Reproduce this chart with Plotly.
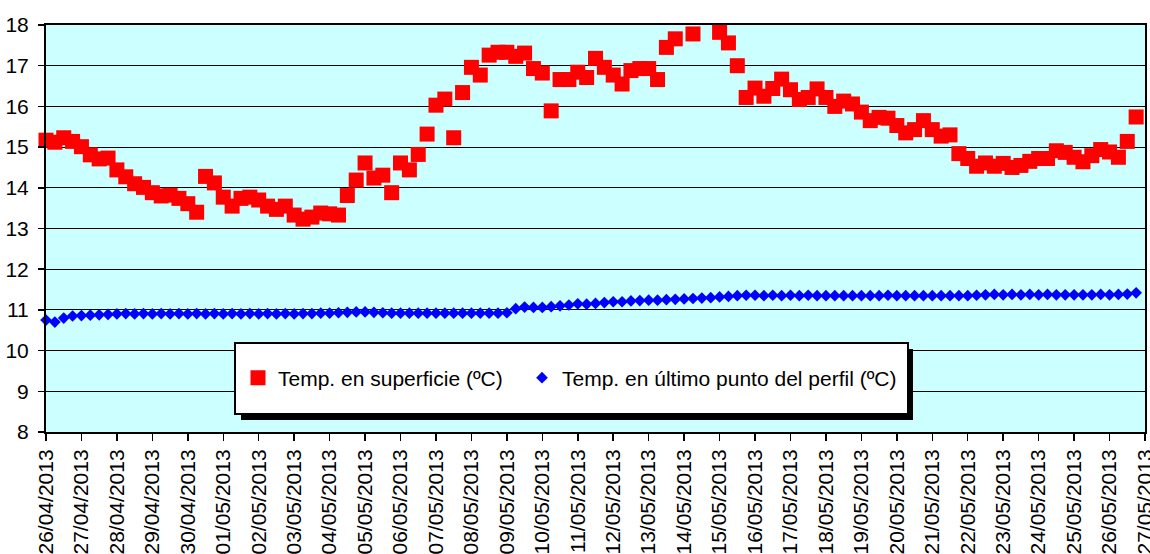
import pandas as pd
import plotly.graph_objects as go

# ---- data (6-hourly readings, 26/04/2013 00:00 onward) ----
start_date = "2013-04-26"
n_points = 124
sample_freq = "6h"

surface_temp = [
    15.17, 15.12, 15.23, 15.14, 15.01, 14.81, 14.71, 14.73, 14.44, 14.27,
    14.10, 14.01, 13.88, 13.80, 13.82, 13.74, 13.61, 13.40, 14.28, 14.12,
    13.77, 13.55, 13.74, 13.77, 13.70, 13.55, 13.47, 13.55, 13.33, 13.23,
    13.28, 13.38, 13.36, 13.33, 13.81, 14.19, 14.61, 14.24, 14.31, 13.88,
    14.61, 14.44, 14.82, 15.32, 16.03, 16.18, 15.23, 16.34, 16.96, 16.77,
    17.26, 17.33, 17.33, 17.23, 17.31, 16.93, 16.82, 15.89, 16.66, 16.66,
    16.84, 16.71, 17.18, 16.96, 16.77, 16.55, 16.88, 16.93, 16.93, 16.66,
    17.45, 17.66, None, 17.78, None, None, 17.82, 17.56, 17.00, 16.22,
    16.45, 16.25, 16.44, 16.67, 16.41, 16.17, 16.22, 16.43, 16.22, 16.00,
    16.13, 16.06, 15.86, 15.65, 15.73, 15.71, 15.53, 15.35, 15.43, 15.65,
    15.43, 15.27, 15.30, 14.84, 14.72, 14.53, 14.61, 14.53, 14.60, 14.50,
    14.55, 14.65, 14.72, 14.72, 14.91, 14.87, 14.75, 14.64, 14.79, 14.94,
    14.88, 14.75, 15.14, 15.74,
]

bottom_temp = [
    10.75, 10.70, 10.80, 10.85, 10.86, 10.87, 10.88, 10.89, 10.90, 10.91,
    10.90, 10.91, 10.90, 10.91, 10.90, 10.91, 10.90, 10.91, 10.90, 10.91,
    10.90, 10.91, 10.90, 10.91, 10.90, 10.91, 10.90, 10.91, 10.90, 10.91,
    10.91, 10.92, 10.92, 10.93, 10.94, 10.95, 10.95, 10.94, 10.93, 10.92,
    10.92, 10.92, 10.92, 10.92, 10.92, 10.92, 10.92, 10.92, 10.92, 10.92,
    10.92, 10.92, 10.93, 11.03, 11.07, 11.06, 11.06, 11.08, 11.10, 11.12,
    11.15, 11.14, 11.16, 11.18, 11.20, 11.20, 11.22, 11.23, 11.24, 11.24,
    11.25, 11.26, 11.27, 11.28, 11.29, 11.30, 11.32, 11.33, 11.35, 11.36,
    11.36, 11.35, 11.36, 11.35, 11.36, 11.35, 11.36, 11.35, 11.35, 11.35,
    11.35, 11.35, 11.35, 11.35, 11.35, 11.36, 11.35, 11.35, 11.35, 11.35,
    11.35, 11.35, 11.35, 11.35, 11.35, 11.36, 11.37, 11.38, 11.37, 11.38,
    11.37, 11.38, 11.37, 11.38, 11.37, 11.37, 11.37, 11.37, 11.37, 11.38,
    11.37, 11.38, 11.39, 11.42,
]

series_names = ["Temp. en superficie (ºC)", "Temp. en último punto del perfil (ºC)"]
x_range = ["2013-04-26", "2013-05-27"]
y_range = [8, 18]

times = pd.date_range(start_date, periods=n_points, freq=sample_freq)

FONT = "Liberation Sans, Arial, sans-serif"

fig = go.Figure()
fig.add_trace(go.Scatter(
    x=times, y=surface_temp, mode="markers", name=series_names[0],
    marker=dict(symbol="square", size=15, color="#FF0000"),
    cliponaxis=False, legendwidth=239,
))
fig.add_trace(go.Scatter(
    x=times, y=bottom_temp, mode="markers", name=series_names[1],
    marker=dict(symbol="diamond", size=9, color="#0000FF"),
    cliponaxis=False, legendwidth=350,
))

# plot area in pixels: x 46..1145, y 25..432
L, R, T, B = 46, 1145, 25, 432
def px(xp):
    return (xp - L) / (R - L)
def py(yp):
    return (B - yp) / (B - T)

shapes = [
    dict(type="rect", xref="paper", yref="paper", layer="above",
         x0=px(241), x1=px(913), y0=py(349), y1=py(420),
         fillcolor="black", line=dict(width=0)),
    dict(type="rect", xref="paper", yref="paper", layer="above",
         x0=px(235), x1=px(908), y0=py(343), y1=py(414),
         fillcolor="white", line=dict(color="black", width=2)),
]

fig.update_layout(
    width=1150, height=554, autosize=False,
    margin=dict(l=L, r=1150 - R, t=T, b=554 - B),
    paper_bgcolor="white", plot_bgcolor="#CCFFFF",
    font=dict(family=FONT, size=21, color="black"),
    showlegend=True,
    legend=dict(
        orientation="h", x=px(238), xanchor="left", y=py(378), yanchor="middle",
        bgcolor="rgba(0,0,0,0)", borderwidth=0,
        font=dict(family=FONT, size=21, color="black"),
        entrywidthmode="pixels",
    ),
    shapes=shapes,
    xaxis=dict(
        type="date", range=x_range, tick0=x_range[0], dtick=86400000,
        tickformat="%d/%m/%Y", tickangle=-90,
        ticks="outside", ticklen=7, tickwidth=1.5, tickcolor="black",
        showline=True, linecolor="black", linewidth=2, mirror=True,
        showgrid=False, zeroline=False, automargin=False,
        ticklabeloverflow="allow",
        tickfont=dict(family=FONT, size=21, color="black"),
    ),
    yaxis=dict(
        range=y_range, dtick=1, tick0=8,
        ticks="outside", ticklen=6, tickwidth=1.5, tickcolor="black",
        showline=True, linecolor="black", linewidth=2, mirror=True,
        showgrid=True, gridcolor="black", gridwidth=1, zeroline=False,
        automargin=False, ticklabelstandoff=5,
        tickfont=dict(family=FONT, size=21, color="black"),
    ),
)

fig.write_html(
    "out.html",
    config={"displayModeBar": False, "staticPlot": True},
    post_script="document.body.style.margin='0';document.body.style.overflow='hidden';",
)
